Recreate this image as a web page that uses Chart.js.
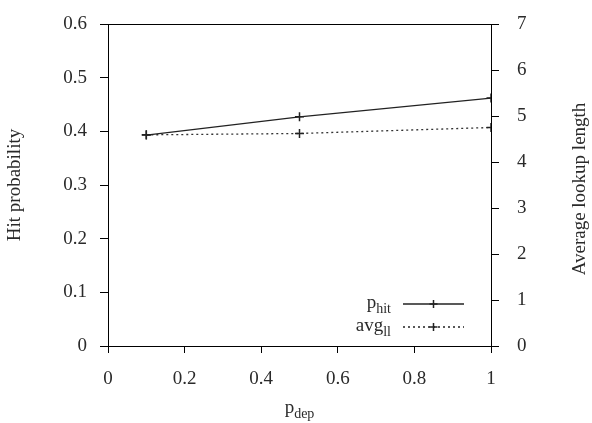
<!DOCTYPE html>
<html>
<head>
<meta charset="utf-8">
<script src="https://cdn.jsdelivr.net/npm/chart.js@4"></script>
<style>
html,body{margin:0;padding:0;background:#fff;}
#wrap{width:592px;height:423px;position:relative;}
</style>
</head>
<body>
<div id="wrap"><canvas id="c" width="592" height="423"></canvas></div>
<script>
const pDep = [0.1, 0.5, 1.0];
const pHit = [0.393, 0.427, 0.462];
const avgLl = [4.59, 4.62, 4.75];
const xTicks = [0, 0.2, 0.4, 0.6, 0.8, 1];
const yLeftTicks = [0, 0.1, 0.2, 0.3, 0.4, 0.5, 0.6];
const yRightTicks = [0, 1, 2, 3, 4, 5, 6, 7];

const FONT = '"Liberation Serif", "DejaVu Serif", serif';
const FS = 19;
const TXT = '#2a2a2a';

function pts(xs, ys){ return xs.map((x,i)=>({x:x, y:ys[i]})); }

function subText(ctx, base, sub, x, y, align){
  ctx.font = FS + 'px ' + FONT;
  const wb = ctx.measureText(base).width;
  ctx.font = Math.round(FS*0.74) + 'px ' + FONT;
  const ws = ctx.measureText(sub).width;
  let x0 = x;
  if (align === 'right') x0 = x - wb - ws;
  else if (align === 'center') x0 = x - (wb + ws)/2;
  ctx.textAlign = 'left';
  ctx.textBaseline = 'alphabetic';
  ctx.fillStyle = TXT;
  ctx.font = FS + 'px ' + FONT;
  ctx.fillText(base, x0, y);
  ctx.font = Math.round(FS*0.74) + 'px ' + FONT;
  ctx.fillText(sub, x0 + wb, y + 5);
}

const deco = {
  id: 'deco',
  afterDraw(chart){
    const ctx = chart.ctx;
    const a = chart.chartArea;
    ctx.save();
    // top border
    ctx.strokeStyle = '#000';
    ctx.lineWidth = 1;
    ctx.beginPath();
    ctx.moveTo(a.left, a.top + 0.5);
    ctx.lineTo(a.right, a.top + 0.5);
    ctx.stroke();
    // axis titles
    ctx.fillStyle = TXT;
    ctx.font = FS + 'px ' + FONT;
    ctx.textAlign = 'center';
    ctx.textBaseline = 'middle';
    const cy = (a.top + a.bottom)/2;
    ctx.save();
    ctx.translate(15, cy);
    ctx.rotate(-Math.PI/2);
    ctx.fillText('Hit probability', 0, 0);
    ctx.restore();
    ctx.save();
    ctx.translate(580, cy + 4);
    ctx.rotate(-Math.PI/2);
    ctx.fillText('Average lookup length', 0, 0);
    ctx.restore();
    // x title
    subText(ctx, 'p', 'dep', (a.left + a.right)/2, a.bottom + 67, 'center');
    // legend
    const lx1 = a.right - 88, lx2 = a.right - 27;
    const items = [
      {base:'p', sub:'hit', y: a.bottom - 42, dash: []},
      {base:'avg', sub:'ll', y: a.bottom - 19, dash: [2,3]}
    ];
    items.forEach(it=>{
      subText(ctx, it.base, it.sub, lx1 - 12, it.y + 4, 'right');
      ctx.strokeStyle = '#222';
      ctx.lineWidth = 1.3;
      ctx.setLineDash(it.dash);
      ctx.beginPath();
      ctx.moveTo(lx1, it.y);
      ctx.lineTo(lx2, it.y);
      ctx.stroke();
      ctx.setLineDash([]);
      const mx = (lx1 + lx2)/2;
      ctx.lineWidth = 1.5;
      ctx.beginPath();
      ctx.moveTo(mx - 4, it.y); ctx.lineTo(mx + 4, it.y);
      ctx.moveTo(mx, it.y - 4); ctx.lineTo(mx, it.y + 4);
      ctx.stroke();
    });
    ctx.restore();
  }
};

const tickFont = {family: FONT, size: FS};

function fitY(w){
  return s => { s.width = w; s.paddingTop = 0; s.paddingBottom = 0; };
}

new Chart(document.getElementById('c'), {
  type: 'line',
  data: {
    datasets: [
      {
        label: 'p_hit',
        data: pts(pDep, pHit),
        yAxisID: 'y',
        borderColor: '#222',
        borderWidth: 1.3,
        pointStyle: 'cross',
        pointRadius: 4.5,
        pointBorderWidth: 1.5,
        pointBorderColor: '#222',
        tension: 0
      },
      {
        label: 'avg_ll',
        data: pts(pDep, avgLl),
        yAxisID: 'y2',
        borderColor: '#333',
        borderWidth: 1.3,
        borderDash: [2,3],
        pointStyle: 'cross',
        pointRadius: 4.5,
        pointBorderWidth: 1.5,
        pointBorderColor: '#222',
        tension: 0
      }
    ]
  },
  options: {
    responsive: false,
    animation: false,
    devicePixelRatio: 1,
    layout: {padding: {top: 24, left: 0, right: 0, bottom: 0}},
    plugins: {legend: {display: false}, tooltip: {enabled: false}},
    scales: {
      x: {
        type: 'linear', position: 'bottom', min: 0, max: 1,
        afterBuildTicks: s => { s.ticks = xTicks.map(v=>({value:v})); },
        afterFit: s => { s.height = 77; s.paddingLeft = 0; s.paddingRight = 0; },
        ticks: {font: tickFont, color: TXT, padding: 15, maxRotation: 0,
                callback: v => String(v)},
        grid: {drawOnChartArea: false, drawTicks: true, tickLength: 7, color: '#000'},
        border: {display: true, color: '#000', width: 1}
      },
      y: {
        type: 'linear', position: 'left', min: 0, max: 0.6,
        afterBuildTicks: s => { s.ticks = yLeftTicks.map(v=>({value:v})); },
        afterFit: fitY(108),
        ticks: {font: tickFont, color: TXT, padding: 13, callback: v => String(v)},
        grid: {drawOnChartArea: false, drawTicks: true, tickLength: 8, color: '#000'},
        border: {display: true, color: '#000', width: 1}
      },
      y2: {
        type: 'linear', position: 'right', min: 0, max: 7,
        afterBuildTicks: s => { s.ticks = yRightTicks.map(v=>({value:v})); },
        afterFit: fitY(101),
        ticks: {font: tickFont, color: TXT, padding: 18, callback: v => String(v)},
        grid: {drawOnChartArea: false, drawTicks: true, tickLength: 8, color: '#000'},
        border: {display: true, color: '#000', width: 1}
      }
    }
  },
  plugins: [deco]
});
</script>
</body>
</html>
